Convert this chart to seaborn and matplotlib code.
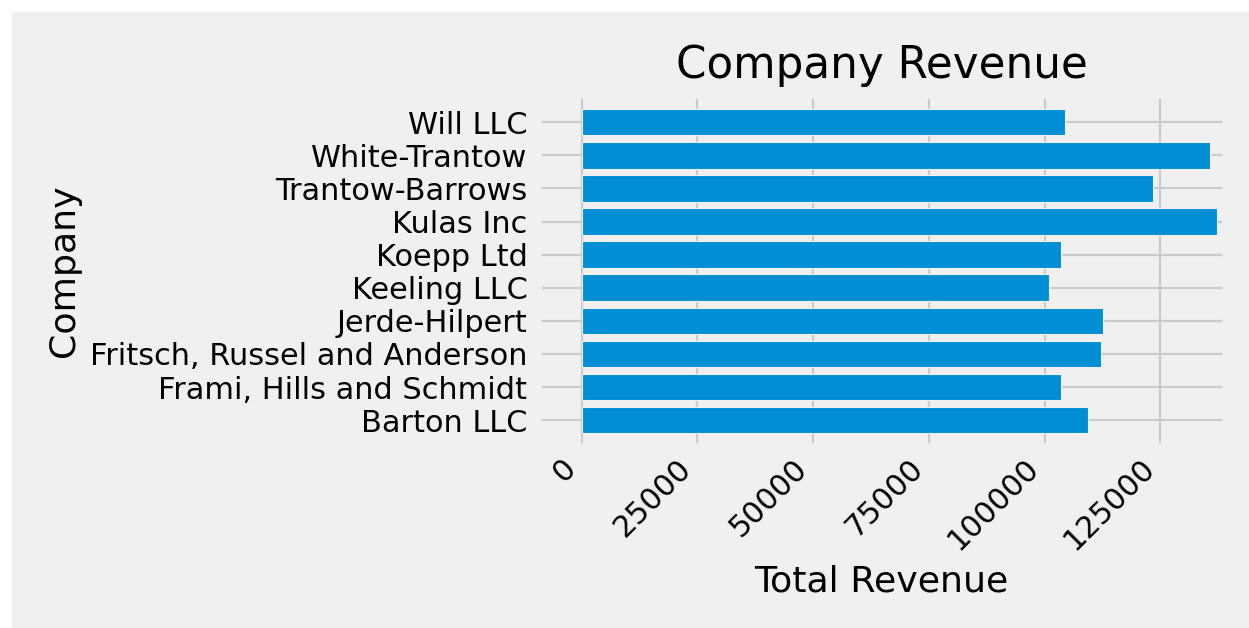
import matplotlib
matplotlib.use("Agg")
import matplotlib.pyplot as plt
from matplotlib.patches import Rectangle
import seaborn as sns

companies = [
    "Barton LLC",
    "Frami, Hills and Schmidt",
    "Fritsch, Russel and Anderson",
    "Jerde-Hilpert",
    "Keeling LLC",
    "Koepp Ltd",
    "Kulas Inc",
    "Trantow-Barrows",
    "White-Trantow",
    "Will LLC",
]
revenue = [
    109438.50,
    103569.59,
    112214.71,
    112591.43,
    100934.30,
    103660.54,
    137351.96,
    123381.38,
    135841.99,
    104437.60,
]
x_ticks = [0, 25000, 50000, 75000, 100000, 125000]

plt.style.use("fivethirtyeight")

W, H, DPI = 1249, 628, 156
fig = plt.figure(figsize=(W / DPI, H / DPI), dpi=DPI, facecolor="white")
fig.add_artist(Rectangle((12 / W, 0), 1 - 12 / W, 1 - 12 / H,
                         transform=fig.transFigure, facecolor="#f0f0f0",
                         edgecolor="none", zorder=-10))

ax = fig.add_axes([538.3 / W, 1 - 445.7 / H, (1225 - 538.3) / W, (445.7 - 95) / H])

# Last company at the top, first at the bottom
order = companies[::-1]
sns.barplot(x=revenue, y=companies, order=order, orient="h", ax=ax,
            color="#008fd5", saturation=1, width=0.8,
            edgecolor="#f0f0f0", linewidth=0.5)

ax.grid(True)
ax.set_axisbelow(True)
ax.set_xlim(-9400, 139000)
ax.set_ylim(9.77, -0.82)
ax.set_xticks(x_ticks)
ax.set_xticklabels([str(t) for t in x_ticks])
plt.setp(ax.get_xticklabels(), rotation=45, horizontalalignment="right")
ax.tick_params(axis="y", pad=5)

ax.set_xlabel("Total Revenue")
ax.set_ylabel("Company")
ax.set_title("Company Revenue", pad=8)

fig.savefig("out.png", dpi=DPI, facecolor="white")
